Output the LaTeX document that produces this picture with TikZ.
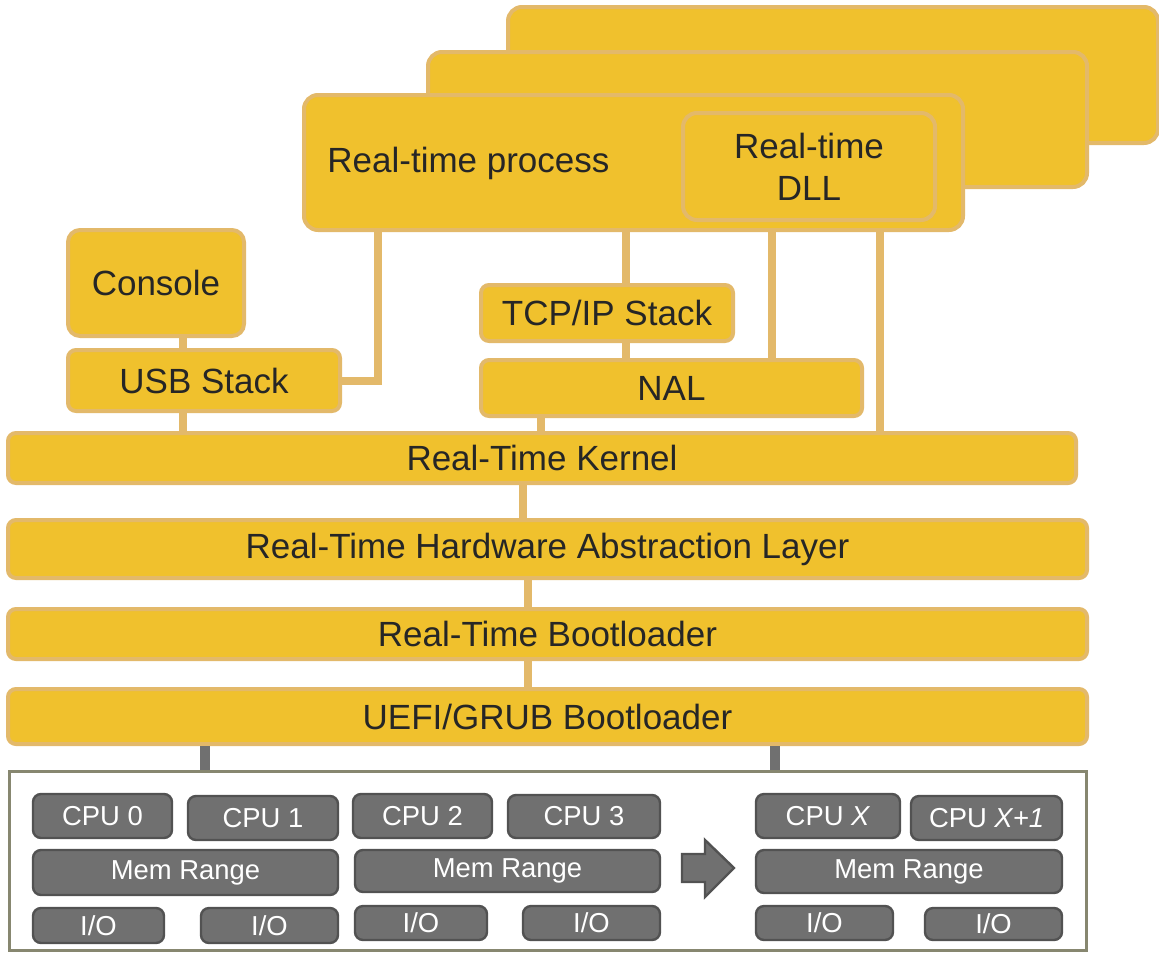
\documentclass[tikz,border=0pt]{standalone}
\usepackage{fontspec}
\setmainfont{Liberation Sans}
\definecolor{rtyellow}{RGB}{240,193,45}
\definecolor{rttan}{RGB}{227,185,106}
\definecolor{rttext}{RGB}{38,38,38}
\definecolor{hwgray}{RGB}{112,112,112}
\definecolor{hwedge}{RGB}{82,82,82}
\definecolor{hwframe}{RGB}{135,135,112}
\tikzset{
  rtbox/.style={draw=rttan, fill=rtyellow, line width=2pt, rounded corners=4pt, inner sep=0pt, text=rttext, font=\fontsize{17.5}{21}\selectfont, align=center},
  hwbox/.style={draw=hwedge, fill=hwgray, line width=1.2pt, rounded corners=4pt, inner sep=0pt, text=white, font=\fontsize{13.7}{16}\selectfont},
  rtlink/.style={draw=rttan, line width=4pt},
  hwlink/.style={draw=hwgray, line width=5pt}
}
\newcommand{\rtnode}[6][]{\node[rtbox,#1,minimum width={(#4-#2)*0.5pt},minimum height={(#5-#3)*0.5pt}] (#6) at ({(#2+#4)/2},{(#3+#5)/2}) {};}
\newcommand{\rtlayer}[7][]{\node[rtbox,#1,minimum width={(#4-#2)*0.5pt},minimum height={(#5-#3)*0.5pt}] (#6) at ({(#2+#4)/2},{(#3+#5)/2}) {#7};}
\newcommand{\hwnode}[6]{\node[hwbox,minimum width={(#3-#1)*0.5pt},minimum height={(#4-#2)*0.5pt}] (#5) at ({(#1+#3)/2},{(#2+#4)/2}) {#6};}

\begin{document}
\begin{tikzpicture}[x=0.5pt,y=-0.5pt]
\useasboundingbox (0,0) rectangle (1159,953);

\rtnode[rounded corners=7pt]{508}{7}{1158}{143}{proc3}
\rtnode[rounded corners=7pt]{428}{52}{1087}{187}{proc2}
\rtnode[rounded corners=7pt]{304}{95}{963}{230}{proc}
\node[anchor=west, inner sep=0pt, text=rttext, font=\fontsize{17.5}{21}\selectfont] (proctext) at (327,163) {Real-time process};
\rtlayer[rounded corners=7pt]{683}{113}{935}{220}{dll}{Real-time\\DLL}

\rtlayer[rounded corners=6pt]{68}{230}{244}{336}{console}{Console}
\rtlayer{68}{350}{340}{411}{usb}{USB Stack}
\rtlayer{481}{285}{733}{341}{tcp}{TCP/IP Stack}
\rtlayer{481}{360}{862}{416}{nal}{NAL}
\rtlayer{8}{433}{1076}{483}{kernel}{Real-Time Kernel}
\rtlayer{8}{520}{1087}{578}{hal}{Real-Time Hardware Abstraction Layer}
\rtlayer{8}{609}{1087}{659}{rtboot}{Real-Time Bootloader}
\rtlayer{8}{689}{1087}{744}{uefi}{UEFI/GRUB Bootloader}

\draw[rtlink] (183,0 |- console.south) -- (183,0 |- usb.north);
\draw[rtlink] (183,0 |- usb.south) -- (183,0 |- kernel.north);
\draw[rtlink] (378,0 |- proc.south) |- (usb.east);
\draw[rtlink] (626,0 |- proc.south) -- (626,0 |- tcp.north);
\draw[rtlink] (626,0 |- tcp.south) -- (626,0 |- nal.north);
\draw[rtlink] (772,0 |- proc.south) -- (772,0 |- nal.north);
\draw[rtlink] (880,0 |- proc.south) -- (880,0 |- kernel.north);
\draw[rtlink] (541,0 |- nal.south) -- (541,0 |- kernel.north);
\draw[rtlink] (523,0 |- kernel.south) -- (523,0 |- hal.north);
\draw[rtlink] (528,0 |- hal.south) -- (528,0 |- rtboot.north);
\draw[rtlink] (528,0 |- rtboot.south) -- (528,0 |- uefi.north);

\node[draw=hwframe, line width=1.5pt, minimum width=538.5pt, minimum height=89.5pt, inner sep=0pt] (hw) at (547.5,860.5) {};
\draw[hwlink] (205,0 |- uefi.south) -- (205,0 |- hw.north);
\draw[hwlink] (775,0 |- uefi.south) -- (775,0 |- hw.north);

\hwnode{33}{794}{172}{838}{cpu0}{CPU 0}
\hwnode{188}{796}{338}{840}{cpu1}{CPU 1}
\hwnode{353}{794}{492}{838}{cpu2}{CPU 2}
\hwnode{508}{795}{660}{838}{cpu3}{CPU 3}
\hwnode{756}{794}{900}{838}{cpux}{CPU \textit{X}}
\hwnode{911}{796}{1062}{840}{cpuxi}{CPU \textit{X+1}}
\hwnode{33}{850}{338}{895}{mema}{Mem Range}
\hwnode{355}{850}{660}{892}{memb}{Mem Range}
\hwnode{756}{850}{1062}{893}{memx}{Mem Range}
\hwnode{33}{908}{164}{943}{ioa}{I/O}
\hwnode{201}{908}{338}{943}{iob}{I/O}
\hwnode{355}{906}{487}{940}{ioc}{I/O}
\hwnode{523}{906}{660}{940}{iod}{I/O}
\hwnode{756}{906}{893}{940}{iox}{I/O}
\hwnode{925}{908}{1062}{940}{ioxi}{I/O}

\draw[draw=hwedge, fill=hwgray, line width=1.2pt] (682,854) -- (705,854) -- (705,840) -- (734,868) -- (705,897) -- (705,882) -- (682,882) -- cycle;
\end{tikzpicture}
\end{document}
